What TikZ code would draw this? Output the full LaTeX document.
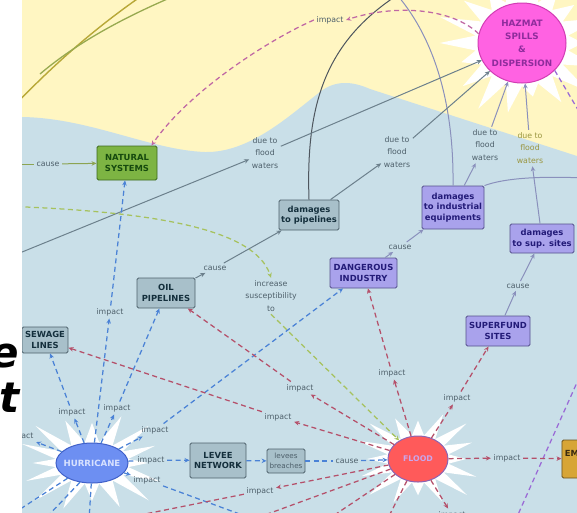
\documentclass[tikz,border=0pt]{standalone}
\usepackage{fontspec}
\setmainfont{DejaVu Sans}
\usetikzlibrary{arrows.meta,shapes.geometric}

\definecolor{seablue}{HTML}{C9DFE8}
\definecolor{sandy}{HTML}{FFF6C2}
\definecolor{lbltxt}{HTML}{4E606B}
\definecolor{olivetxt}{HTML}{9A9640}
\definecolor{grayfill}{HTML}{A8C0CA}
\definecolor{grayline}{HTML}{4F626C}
\definecolor{graytxt}{HTML}{142F3C}
\definecolor{violfill}{HTML}{A9A2EC}
\definecolor{violline}{HTML}{55508C}
\definecolor{violtxt}{HTML}{231B78}
\definecolor{leaffill}{HTML}{7DB443}
\definecolor{leafline}{HTML}{3C6A1E}
\definecolor{leaftxt}{HTML}{164A0E}
\definecolor{goldfill}{HTML}{D7A536}
\definecolor{goldline}{HTML}{6A5220}
\definecolor{goldtxt}{HTML}{3A2A10}
\definecolor{hazfill}{HTML}{FF62E2}
\definecolor{hazline}{HTML}{D23CB4}
\definecolor{haztxt}{HTML}{8E2C9C}
\definecolor{hurfill}{HTML}{6D8FF2}
\definecolor{hurline}{HTML}{4060C8}
\definecolor{hurtxt}{HTML}{D8E2FF}
\definecolor{flfill}{HTML}{FF5A5A}
\definecolor{flline}{HTML}{8A64B4}
\definecolor{fltxt}{HTML}{C9A6EC}
\definecolor{impblue}{HTML}{4A82D6}
\definecolor{impred}{HTML}{B5506A}
\definecolor{imppink}{HTML}{C068A4}
\definecolor{impviolet}{HTML}{9A6AD6}
\definecolor{suscgreen}{HTML}{A6C25E}
\definecolor{flowgray}{HTML}{6C808C}
\definecolor{flowviolet}{HTML}{8A90BC}
\definecolor{arcdark}{HTML}{4E565E}
\definecolor{causeolive}{HTML}{8CA452}
\definecolor{olivearc}{HTML}{B8A838}
\definecolor{olivearcb}{HTML}{98AA50}

% white spiky burst behind an oval concept
% #1,#2 centre; #3,#4 spike radii; #5,#6 valley radii; #7 vertex count (even); #8 = #7-1
\newcommand{\spikeburst}[8]{%
  \fill[white] ({#1+0.8*#3},{#2})
    \foreach \k [evaluate=\k as \fx using {isodd(\k) ? #5 : #3*(0.8+0.35*abs(sin(\k*67)))},
                 evaluate=\k as \fy using {isodd(\k) ? #6 : #4*(0.8+0.35*abs(sin(\k*67)))}]
      in {1,...,#8} { -- ({#1+\fx*cos(\k*360/#7)},{#2+\fy*sin(\k*360/#7)}) } -- cycle;}

\begin{document}
\begin{tikzpicture}[x=1pt,y=-1pt,
  lbl/.style={font=\fontsize{7.8}{12.5}\selectfont, text=lbltxt, inner sep=2.5pt, align=center},
  conc/.style={rounded corners=1.5pt, line width=0.9pt, align=center, inner sep=1pt,
    font=\fontsize{8.4}{10.6}\selectfont\bfseries},
  graybox/.style={conc, fill=grayfill, draw=grayline, text=graytxt},
  violbox/.style={conc, fill=violfill, draw=violline, text=violtxt},
  leafbox/.style={conc, fill=leaffill, draw=leafline, text=leaftxt},
  goldbox/.style={conc, fill=goldfill, draw=goldline, text=goldtxt, inner sep=3pt},
  oval/.style={ellipse, line width=1pt, inner sep=0},
  arr/.style={-{Stealth[length=5pt,width=4.5pt]}},
  dashline/.style={line width=1.25pt, dash pattern=on 5pt off 3.5pt},
  hlink/.style={dashline, draw=impblue},
  flink/.style={dashline, draw=impred},
  glink/.style={line width=1pt, draw=flowgray},
  vlink/.style={line width=1pt, draw=flowviolet},
  bigletter/.style={anchor=base east, inner sep=0, font=\fontsize{42}{42}\selectfont\bfseries\itshape},
]
\useasboundingbox (0,0) rectangle (577,512);
\fill[white] (0,0) rectangle (577,512);

\begin{scope}
\clip (22,0) rectangle (577,512);

% ---------------- backdrop ----------------
\fill[sandy] (22,0) rectangle (577,512);
\fill[seablue] (22,117) .. controls (90,118) and (150,150) .. (205,152)
   .. controls (250,153) and (290,115) .. (320,92)
   .. controls (335,80) and (352,81) .. (370,89) -- (580,157) -- (580,515) -- (22,515) -- cycle;
\spikeburst{522}{43}{76}{66}{47}{43}{36}{35}
\spikeburst{92}{463}{70}{46}{37}{21}{32}{31}
\spikeburst{418}{459}{60}{44}{31}{24}{32}{31}

% ---------------- concepts ----------------
\node[leafbox, minimum width=60, minimum height=34] (ns) at (127,163) {NATURAL\\SYSTEMS};
\node[graybox, minimum width=60, minimum height=30] (pipe) at (309,215) {damages\\to pipelines};
\node[violbox, minimum width=62, minimum height=43] (ind) at (453,207.5) {damages\\to industrial\\equipments};
\node[violbox, minimum width=64, minimum height=29] (sup) at (542,238.5) {damages\\to sup. sites};
\node[violbox, minimum width=67, minimum height=30] (dang) at (363.5,273) {DANGEROUS\\INDUSTRY};
\node[graybox, minimum width=58, minimum height=30] (oil) at (166,293) {OIL\\PIPELINES};
\node[violbox, minimum width=64, minimum height=30] (sfs) at (498,331) {SUPERFUND\\SITES};
\node[graybox, minimum width=46, minimum height=26] (sew) at (45,340) {SEWAGE\\LINES};
\node[graybox, minimum width=56, minimum height=35] (lev) at (218,460.5) {LEVEE\\NETWORK};
\node[graybox, minimum width=38, minimum height=24, font=\fontsize{7.2}{9.5}\selectfont, text=lbltxt] (brk) at (286,461) {levees\\breaches};
\node[goldbox, minimum height=38, anchor=west] (em) at (561.5,459) {EMERGENCY\\FUNDS};

\node[oval, fill=hazfill, draw=hazline, minimum width=88, minimum height=80] (hz) at (522,43) {};
\node[text=haztxt, align=center, font=\fontsize{8.8}{13.3}\selectfont\bfseries] (hzt) at (hz) {HAZMAT\\SPILLS\\\&\\DISPERSION};
\node[oval, fill=hurfill, draw=hurline, minimum width=72, minimum height=40] (hur) at (92,463) {};
\node[text=hurtxt, font=\fontsize{8.6}{10}\selectfont\bfseries] (hurt) at (hur) {HURRICANE};
\node[oval, fill=flfill, draw=flline, minimum width=60, minimum height=46] (fl) at (418,459) {};
\node[text=fltxt, font=\fontsize{7.8}{9}\selectfont\bfseries] (flt) at (fl) {FLOOD};

% ---------------- linking phrases ----------------
\node[lbl] (cz0) at (48,164) {cause};
\node[lbl] (d1) at (265,153) {due to\\flood\\waters};
\node[lbl] (d2) at (397,152) {due to\\flood\\waters};
\node[lbl] (d3) at (485,145) {due to\\flood\\waters};
\node[lbl, text=olivetxt] (d4) at (530,148) {due to\\flood\\waters};
\node[lbl] (itop) at (330,20) {impact};
\node[lbl] (cz1) at (215,268) {cause};
\node[lbl] (cz2) at (400,247) {cause};
\node[lbl] (cz3) at (518,286) {cause};
\node[lbl] (inc) at (271,296) {increase\\susceptibility\\to};
\node[lbl] (h1) at (72,412) {impact};
\node[lbl] (h2) at (110,312) {impact};
\node[lbl] (h3) at (117,408) {impact};
\node[lbl] (h4) at (155,430) {impact};
\node[lbl] (h5) at (151,460) {impact};
\node[lbl] (h6) at (147,480) {impact};
\node[lbl] (h7) at (20,436) {impact};
\node[lbl] (cz4) at (347,461) {cause};
\node[lbl] (f1) at (300,388) {impact};
\node[lbl] (f2) at (278,417) {impact};
\node[lbl] (f3) at (392,373) {impact};
\node[lbl] (f4) at (457,398) {impact};
\node[lbl] (f5) at (507,458) {impact};
\node[lbl] (f6) at (260,491) {impact};
\node[lbl] (f7) at (452,515) {impact};

% loose ends of links running off the sheet
\coordinate (offC) at (0,164);
\coordinate (offL1) at (0,261);
\coordinate (offG) at (0,206);
\coordinate (offT1) at (396,-4);
\coordinate (offT2) at (398,-4);
\coordinate (offR) at (585,178);
\coordinate (offHZ) at (590,130);
\coordinate (offP1) at (583,369);
\coordinate (offP2) at (512,528);
\coordinate (offOa) at (14,106);
\coordinate (offOb) at (140,-3);
\coordinate (offOc) at (40,74);
\coordinate (offOd) at (172,-3);
\coordinate (offH1) at (8,517);
\coordinate (offH2) at (44,520);
\coordinate (offH3) at (89,520);
\coordinate (offH6) at (245,516);
\coordinate (offF1) at (262,516);
\coordinate (offF2) at (333,516);
\coordinate (offF3) at (388,518);
\coordinate (offF6) at (145,514);

% ---------------- links ----------------
% arcs at the top of the sheet
\draw[olivearc, line width=1.4pt] (offOa) .. controls (60,58) and (100,25) .. (offOb);
\draw[olivearcb, line width=1.3pt] (offOc) .. controls (80,40) and (130,15) .. (offOd);
\draw[arcdark, line width=1pt] (pipe.north) .. controls (306,110) and (322,45) .. (offT1);
\draw[flowviolet, line width=1pt] (ind.north) .. controls (454,105) and (435,40) .. (offT2);
\draw[flowviolet, line width=1pt] (ind.north east) .. controls (505,178) and (540,176) .. (offR);

% causes feeding the natural systems
\draw[causeolive, line width=1pt] (offC) -- (cz0);
\draw[causeolive, line width=1pt, arr] (cz0) -- (ns);

% spills due to flood waters
\draw[glink, arr] (offL1) -- (d1);
\draw[glink, arr] (d1) -- (hz);
\draw[glink, arr] (pipe) -- (d2);
\draw[glink, arr] (d2) -- (hz);
\draw[vlink, arr] (ind) -- (d3);
\draw[vlink, arr] (d3) -- (hz);
\draw[vlink, arr] (sup) -- (d4);
\draw[vlink, arr] (d4) -- (hz);

% spills impact the natural systems
\draw[dashline, imppink, arr] (hz.168) .. controls (452,8) and (395,4) .. (itop.east);
\draw[dashline, imppink, arr] (itop.west) .. controls (268,40) and (188,92) .. ([xshift=-6pt]ns.north east);
\draw[dashline, impviolet] (hz.-40) -- (offHZ);
\draw[dashline, impviolet] (offP1) -- (offP2);

% increased susceptibility
\draw[dashline, suscgreen, arr] (offG) .. controls (150,211) and (255,228) .. (inc.north);
\draw[dashline, suscgreen, arr] (inc.south) -- (fl);

% damages caused by the exposed assets
\draw[glink, arr] (oil) -- (cz1);
\draw[glink, arr] (cz1) -- (pipe);
\draw[vlink, arr] (dang) -- (cz2);
\draw[vlink, arr] (cz2) -- (ind);
\draw[vlink, arr] (sfs) -- (cz3);
\draw[vlink, arr] (cz3) -- (sup);

% hurricane impacts
\draw[hlink, arr] (hur) -- (h1);
\draw[hlink, arr] (h1) -- (sew);
\draw[hlink, arr] (hur) -- (h2);
\draw[hlink, arr] (h2) -- (ns);
\draw[hlink, arr] (hur) -- (h3);
\draw[hlink, arr] (h3) -- (oil);
\draw[hlink, arr] (hur) -- (h4);
\draw[hlink, arr] (h4) -- (dang);
\draw[hlink] (hur) -- (h5);
\draw[hlink, arr] (h5) -- (lev);
\draw[hlink, arr] (hur) -- (h6);
\draw[hlink] (h6) -- (offH6);
\draw[hlink, arr] (hur) -- (h7);
\draw[hlink] (hur.212) -- (offH1);
\draw[hlink] (hur.238) -- (offH2);
\draw[hlink] (hur.268) -- (offH3);

% levee failure leads to flooding
\draw[hlink, arr] (lev) -- (brk);
\draw[hlink] (brk) -- (cz4);
\draw[hlink, arr] (cz4) -- (fl);

% flood impacts
\draw[flink, arr] (fl) -- (f1);
\draw[flink, arr] (f1) -- (oil);
\draw[flink, arr] (fl) -- (f2);
\draw[flink, arr] (f2) -- (sew);
\draw[flink, arr] (fl) -- (f3);
\draw[flink, arr] (f3) -- (dang);
\draw[flink, arr] (fl) -- (f4);
\draw[flink, arr] (f4) -- (sfs);
\draw[flink, arr] (fl) -- (f5);
\draw[flink, arr] (f5) -- (em);
\draw[flink, arr] (fl) -- (f6);
\draw[flink] (f6) -- (offF6);
\draw[flink, arr] (fl) -- (f7);
\draw[flink] (fl) -- (offF1);
\draw[flink] (fl) -- (offF2);
\draw[flink] (fl) -- (offF3);
\end{scope}

% ---------------- lettering in the left margin ----------------
\begin{scope}
\clip (0,0) rectangle (21.5,512);
\node[bigletter] (bige) at (19,367) {e};
\node[bigletter] (bigt) at (20,412) {t};
\end{scope}
\end{tikzpicture}
\end{document}
